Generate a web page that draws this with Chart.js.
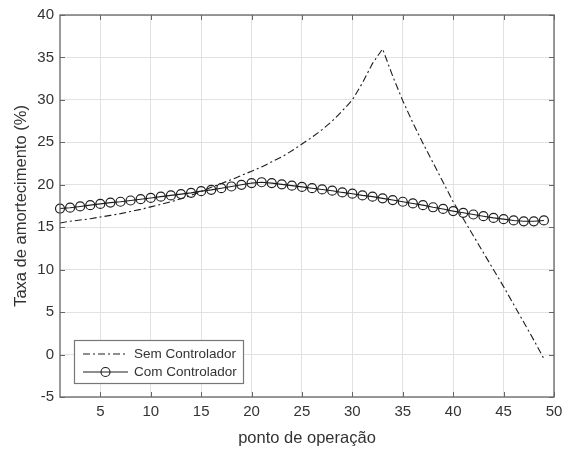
<!DOCTYPE html>
<html>
<head>
<meta charset="utf-8">
<script src="https://cdn.jsdelivr.net/npm/chart.js@4.4.1/dist/chart.umd.min.js"></script>
<style>
  html, body { margin: 0; padding: 0; background: #fff; }
  canvas { display: block; }
</style>
</head>
<body>
<canvas id="amortecimento" width="574" height="452"></canvas>
<script>
const pontos = [1, 2, 3, 4, 5, 6, 7, 8, 9, 10, 11, 12, 13, 14, 15, 16, 17, 18, 19, 20,
  21, 22, 23, 24, 25, 26, 27, 28, 29, 30, 31, 32, 33, 34, 35, 36, 37, 38, 39, 40,
  41, 42, 43, 44, 45, 46, 47, 48, 49];

const semControlador = [15.5, 15.7, 15.85, 16.0, 16.2, 16.4, 16.6, 16.85, 17.1, 17.4,
  17.7, 18.0, 18.35, 18.75, 19.2, 19.7, 20.15, 20.6, 21.1, 21.6,
  22.1, 22.7, 23.3, 24.0, 24.8, 25.6, 26.5, 27.5, 28.7, 30.0,
  32.0, 34.3, 36.0, 32.8, 29.9, 27.3, 24.9, 22.6, 20.3, 18.0,
  16.0, 14.0, 12.0, 10.0, 8.0, 5.9, 3.8, 1.7, -0.5];

const comControlador = [17.2, 17.3, 17.45, 17.6, 17.75, 17.9, 18.0, 18.15, 18.3, 18.45,
  18.6, 18.75, 18.9, 19.05, 19.25, 19.4, 19.6, 19.8, 20.0, 20.2,
  20.3, 20.2, 20.05, 19.9, 19.75, 19.6, 19.45, 19.3, 19.1, 18.95,
  18.75, 18.6, 18.4, 18.2, 18.0, 17.8, 17.6, 17.35, 17.15, 16.9,
  16.7, 16.5, 16.3, 16.1, 15.95, 15.8, 15.7, 15.7, 15.8];

const xTicks = [5, 10, 15, 20, 25, 30, 35, 40, 45, 50];
const yTicks = [-5, 0, 5, 10, 15, 20, 25, 30, 35, 40];

const labelSem = "Sem Controlador";
const labelCom = "Com Controlador";

const FONT = "'Liberation Sans', Arial, sans-serif";
const TEXT = "#333";
const LINE = "#1e1e1e";
const DASHDOT = [7, 3, 2, 3];

// box around the axes with MATLAB-style inward ticks
const axesBox = {
  id: "axesBox",
  afterDraw(chart) {
    const { ctx, chartArea: a, scales } = chart;
    ctx.save();
    ctx.strokeStyle = "#666";
    ctx.lineWidth = 1.3;
    ctx.strokeRect(a.left, a.top, a.right - a.left, a.bottom - a.top);
    ctx.lineWidth = 1;
    ctx.beginPath();
    xTicks.forEach((v) => {
      const px = Math.round(scales.x.getPixelForValue(v)) + 0.5;
      ctx.moveTo(px, a.bottom); ctx.lineTo(px, a.bottom - 5);
      ctx.moveTo(px, a.top); ctx.lineTo(px, a.top + 5);
    });
    yTicks.forEach((v) => {
      const py = Math.round(scales.y.getPixelForValue(v)) + 0.5;
      ctx.moveTo(a.left, py); ctx.lineTo(a.left + 5, py);
      ctx.moveTo(a.right, py); ctx.lineTo(a.right - 5, py);
    });
    ctx.stroke();
    ctx.restore();
  },
};

// legend box in the lower left corner
const cantoLegenda = {
  id: "cantoLegenda",
  afterDraw(chart) {
    const { ctx, chartArea: a } = chart;
    const x0 = a.left + 14, y0 = a.bottom - 57, w = 169, h = 43;
    ctx.save();
    ctx.fillStyle = "#fff";
    ctx.fillRect(x0, y0, w, h);
    ctx.strokeStyle = "#777";
    ctx.lineWidth = 1.2;
    ctx.strokeRect(x0 + 0.5, y0 + 0.5, w, h);

    const r1 = y0 + 14, r2 = y0 + 32;
    const l0 = x0 + 9, l1 = x0 + 54;
    ctx.strokeStyle = LINE;
    ctx.lineWidth = 1.1;
    ctx.setLineDash(DASHDOT);
    ctx.beginPath(); ctx.moveTo(l0, r1); ctx.lineTo(l1, r1); ctx.stroke();
    ctx.setLineDash([]);
    ctx.beginPath(); ctx.moveTo(l0, r2); ctx.lineTo(l1, r2); ctx.stroke();
    ctx.beginPath(); ctx.arc((l0 + l1) / 2, r2, 4.5, 0, Math.PI * 2); ctx.stroke();

    ctx.fillStyle = TEXT;
    ctx.font = "13.5px " + FONT;
    ctx.textBaseline = "middle";
    ctx.fillText(labelSem, x0 + 60, r1);
    ctx.fillText(labelCom, x0 + 60, r2);
    ctx.restore();
  },
};

new Chart(document.getElementById("amortecimento"), {
  type: "line",
  data: {
    datasets: [
      {
        label: labelSem,
        data: pontos.map((p, i) => ({ x: p, y: semControlador[i] })),
        borderColor: LINE,
        borderWidth: 1.1,
        borderDash: DASHDOT,
        pointRadius: 0,
        order: 2,
      },
      {
        label: labelCom,
        data: pontos.map((p, i) => ({ x: p, y: comControlador[i] })),
        borderColor: LINE,
        borderWidth: 1.1,
        pointRadius: 4.5,
        pointBorderWidth: 1.2,
        pointBorderColor: LINE,
        pointBackgroundColor: "rgba(0,0,0,0)",
        clip: false,
        order: 1,
      },
    ],
  },
  options: {
    responsive: false,
    animation: false,
    devicePixelRatio: 1,
    layout: { padding: { top: 9, right: 20, left: 0, bottom: 0 } },
    plugins: {
      legend: { display: false },
      tooltip: { enabled: false },
    },
    scales: {
      x: {
        type: "linear",
        min: 1,
        max: 50,
        afterBuildTicks: (s) => { s.ticks = xTicks.map((v) => ({ value: v })); },
        afterFit: (s) => { s.height = 55; },
        grid: { color: "#e2e2e2", drawTicks: false },
        border: { display: false },
        ticks: { color: TEXT, font: { family: FONT, size: 15 }, padding: 6 },
        title: {
          display: true,
          text: "ponto de operação",
          color: TEXT,
          font: { family: FONT, size: 16.5 },
          padding: { top: 0, bottom: 4 },
        },
      },
      y: {
        min: -5,
        max: 40,
        afterBuildTicks: (s) => { s.ticks = yTicks.map((v) => ({ value: v })); },
        afterFit: (s) => { s.width = 60; },
        grid: { color: "#e2e2e2", drawTicks: false },
        border: { display: false },
        ticks: { color: TEXT, font: { family: FONT, size: 15 }, padding: 6 },
        title: {
          display: true,
          text: "Taxa de amortecimento (%)",
          color: TEXT,
          font: { family: FONT, size: 16.5 },
          padding: { top: 12, bottom: 0 },
        },
      },
    },
  },
  plugins: [axesBox, cantoLegenda],
});
</script>
</body>
</html>
